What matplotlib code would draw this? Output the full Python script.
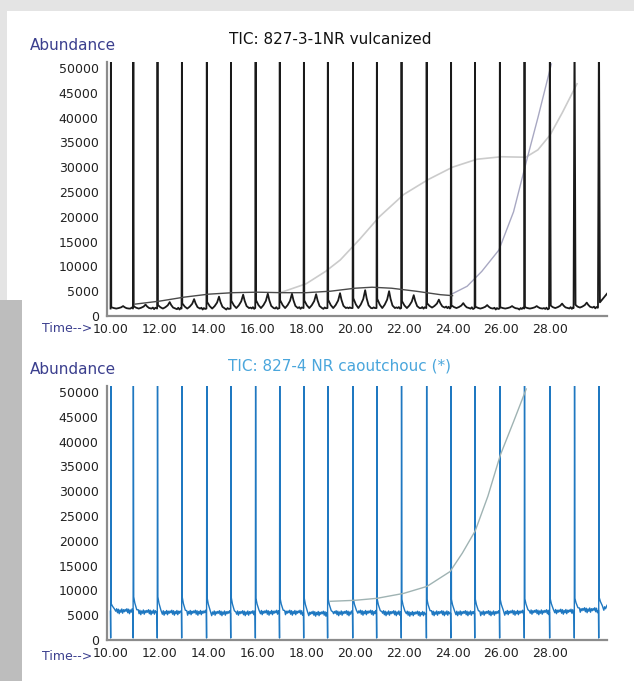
"""
Two stacked GC-MS total ion chromatograms (TIC): vulcanized NR vs raw caoutchouc.
"""

import matplotlib

matplotlib.use("Agg")
import matplotlib.pyplot as plt
from matplotlib.patches import Rectangle

# ── data ──────────────────────────────────────────────────────────────────
PEAK_TIMES = [10.00, 10.92, 11.91, 12.91, 13.93, 14.92, 15.93, 16.92, 17.91,
              18.89, 19.92, 20.90, 21.91, 22.94, 23.94, 24.92, 25.94, 26.95,
              27.99, 29.00, 30.00]
PEAK_APEX = 60000  # every big peak runs off scale
TOP_PEAK_WIDTH = [0.015] * 18 + [0.035, 0.04, 0.04]

# vulcanized trace: baseline and mid-cycle scallop height for each cycle
TOP_BASE = [1500, 1500, 1500, 1500, 1500, 1600, 1600, 1600, 1600, 1600, 1600,
            1600, 1600, 1700, 1600, 1500, 1500, 1500, 1600, 1700, 2200]
TOP_BUMP = [2000, 2300, 2800, 3400, 3900, 4300, 4500, 4500, 4400, 4600, 5200,
            5000, 4200, 3300, 2600, 2200, 2000, 2000, 2500, 2700, 3200]
TOP_END = 4500

# caoutchouc trace: level just after each peak and the settled baseline
BOT_SHOULDER = [7300, 8700, 8700, 8600, 8500, 8500, 8400, 8400, 8400, 8300,
                8300, 8200, 8200, 8200, 8200, 8200, 8200, 8300, 8300, 8400, 8500]
BOT_BASE = [5800, 5600, 5500, 5500, 5400, 5400, 5500, 5500, 5300, 5400, 5500,
            5400, 5300, 5400, 5400, 5400, 5500, 5600, 5700, 6000, 6400]
BOT_DIP = 400
BOT_END = 7000

# hand-read texture of the noisy baseline
NOISE = [0, 500, -300, 400, -500, 250, -200, 450, -400, 300, -100, 350]

# overlaid smooth traces
HUMP_T = [11.0, 12.0, 13.0, 14.0, 15.0, 16.0, 17.0, 18.0, 19.0, 20.0, 20.7,
          21.5, 22.5, 23.5, 24.0]
HUMP_Y = [2400, 3000, 3800, 4400, 4700, 4800, 4700, 4700, 5000, 5600, 5800,
          5600, 5000, 4300, 4100]
SIG_T = [17.0, 18.0, 18.8, 19.4, 20.2, 21.0, 22.0, 23.0, 24.0, 25.0, 26.0,
         27.0, 27.5, 28.0, 28.5, 29.1]
SIG_Y = [4800, 6500, 9000, 11300, 15500, 20000, 24500, 27500, 30000, 31600,
         32100, 32000, 33500, 36500, 41000, 46800]
STEEP_T = [24.0, 24.6, 25.2, 25.9, 26.5, 27.05, 27.5, 28.05]
STEEP_Y = [4500, 6000, 9000, 13300, 21000, 31600, 40000, 50800]
BOT_CURVE_T = [19.0, 20.0, 20.9, 22.0, 22.95, 23.9, 24.4, 24.93, 25.45,
               25.96, 26.5, 27.02]
BOT_CURVE_Y = [7800, 8000, 8400, 9400, 10800, 13800, 17500, 22000, 29000,
               37300, 44000, 50600]

YTICKS = list(range(0, 50001, 5000))
XTICKS = [10, 12, 14, 16, 18, 20, 22, 24, 26, 28]
XLIM = (9.84, 30.33)
YLIM = (0, 51200)

TITLE_TOP = "TIC: 827-3-1NR vulcanized"
TITLE_BOT = "TIC: 827-4 NR caoutchouc (*)"

# ── palette ──────────────────────────────────────────────────────────────
BLACK_TRACE = "#1a1a1a"
BLUE_TRACE = "#1f78c1"
LABEL_BLUE = "#3b3f8e"
TITLE_BLUE = "#4aa6dc"
SPINE_GRAY = "#8c8c8c"
W, H = 634, 681


def top_trace():
    t, y = [], []
    prev = TOP_BASE[0]
    for k, t0 in enumerate(PEAK_TIMES):
        t1 = PEAK_TIMES[k + 1] if k + 1 < len(PEAK_TIMES) else XLIM[1]
        w = TOP_PEAK_WIDTH[k]
        base, bump = TOP_BASE[k], TOP_BUMP[k]
        t += [t0 - w, t0, t0 + w]
        y += [prev, PEAK_APEX, base + 0.55 * (bump - base)]
        if t1 - t0 > 0.7:
            rise = bump - base
            t += [t0 + 0.12, t0 + 0.22, t0 + 0.32, t0 + 0.42, t0 + 0.5,
                  t0 + 0.56, t0 + 0.64, t0 + 0.74]
            y += [base + 0.2 * rise, base, base + 0.2 * rise, base + 0.5 * rise,
                  bump, base + 0.55 * rise, base + 0.15 * rise, base]
            s, i = t0 + 0.8, k
            while s < t1 - 0.04:
                t.append(s)
                y.append(base + 0.4 * NOISE[i % len(NOISE)])
                s += 0.05
                i += 1
            prev = base
        else:
            t += [t1]
            y += [TOP_END]
    return t, y


def bottom_trace():
    t, y = [], []
    prev = BOT_BASE[0]
    for k, t0 in enumerate(PEAK_TIMES):
        t1 = PEAK_TIMES[k + 1] if k + 1 < len(PEAK_TIMES) else XLIM[1]
        base, sh = BOT_BASE[k], BOT_SHOULDER[k]
        t += [t0 - 0.02, t0 - 0.01, t0, t0 + 0.015, t0 + 0.06, t0 + 0.14]
        y += [prev, BOT_DIP, PEAK_APEX, sh, 0.5 * (sh + base) + 300, base + 500]
        s, i = t0 + 0.2, k
        while s < t1 - 0.03:
            t.append(s)
            y.append(base + NOISE[i % len(NOISE)])
            s += 0.035
            i += 1
        prev = base
    t.append(XLIM[1])
    y.append(BOT_END)
    return t, y


def style_axes(ax, y0_px):
    ax.set_xlim(*XLIM)
    ax.set_ylim(*YLIM)
    ax.set_yticks(YTICKS)
    ax.set_yticklabels([str(v) for v in YTICKS])
    ax.set_xticks(XTICKS)
    ax.set_xticklabels([f"{v:.2f}" for v in XTICKS])
    ax.tick_params(length=0, labelsize=9, colors="#222222", pad=6)
    ax.tick_params(axis="x", pad=5)
    ax.spines[["top", "right"]].set_visible(False)
    for side in ("left", "bottom"):
        ax.spines[side].set_color(SPINE_GRAY)
        ax.spines[side].set_linewidth(1.6)
    ax.patch.set_alpha(0)
    ax.figure.text(92 / W, 1 - (y0_px + 12) / H, "Time-->", ha="right",
                   va="center", fontsize=9, color=LABEL_BLUE)


fig = plt.figure(figsize=(W / 100, H / 100), dpi=100, facecolor="#e4e4e4")
fig.patches.append(Rectangle((7 / W, 0), 1, 1 - 11 / H, transform=fig.transFigure,
                             facecolor="white", edgecolor="none", zorder=-2))
fig.patches.append(Rectangle((0, 0), 22 / W, 1 - 300 / H, transform=fig.transFigure,
                             facecolor="#bdbdbd", edgecolor="none", zorder=-1))

ax1 = fig.add_axes([107 / W, 1 - 316 / H, 500 / W, (316 - 62) / H])
ax2 = fig.add_axes([107 / W, 1 - 640 / H, 500 / W, (640 - 386) / H])

# top panel
ax1.plot(SIG_T, SIG_Y, color="#cbcbcb", lw=1.2, zorder=1)
ax1.plot(STEEP_T, STEEP_Y, color="#a8a8c2", lw=1.0, zorder=1)
tt, ty = top_trace()
ax1.plot(tt, ty, color=BLACK_TRACE, lw=1.3, zorder=2)
ax1.plot(HUMP_T, HUMP_Y, color="#4a4a4a", lw=1.0, zorder=3)
style_axes(ax1, 316)

# bottom panel
bt, by = bottom_trace()
ax2.plot(bt, by, color=BLUE_TRACE, lw=1.0, zorder=2)
ax2.plot(BOT_CURVE_T, BOT_CURVE_Y, color="#9fb3b3", lw=1.0, zorder=3)
style_axes(ax2, 645)

fig.text(330 / W, 1 - 40 / H, TITLE_TOP, ha="center", va="center",
         fontsize=11, color="#111111")
fig.text(340 / W, 1 - 366 / H, TITLE_BOT, ha="center", va="center",
         fontsize=11, color=TITLE_BLUE)
fig.text(30 / W, 1 - 46 / H, "Abundance", ha="left", va="center",
         fontsize=11, color=LABEL_BLUE)
fig.text(30 / W, 1 - 370 / H, "Abundance", ha="left", va="center",
         fontsize=11, color=LABEL_BLUE)

fig.savefig("out.png", dpi=100, facecolor=fig.get_facecolor())
